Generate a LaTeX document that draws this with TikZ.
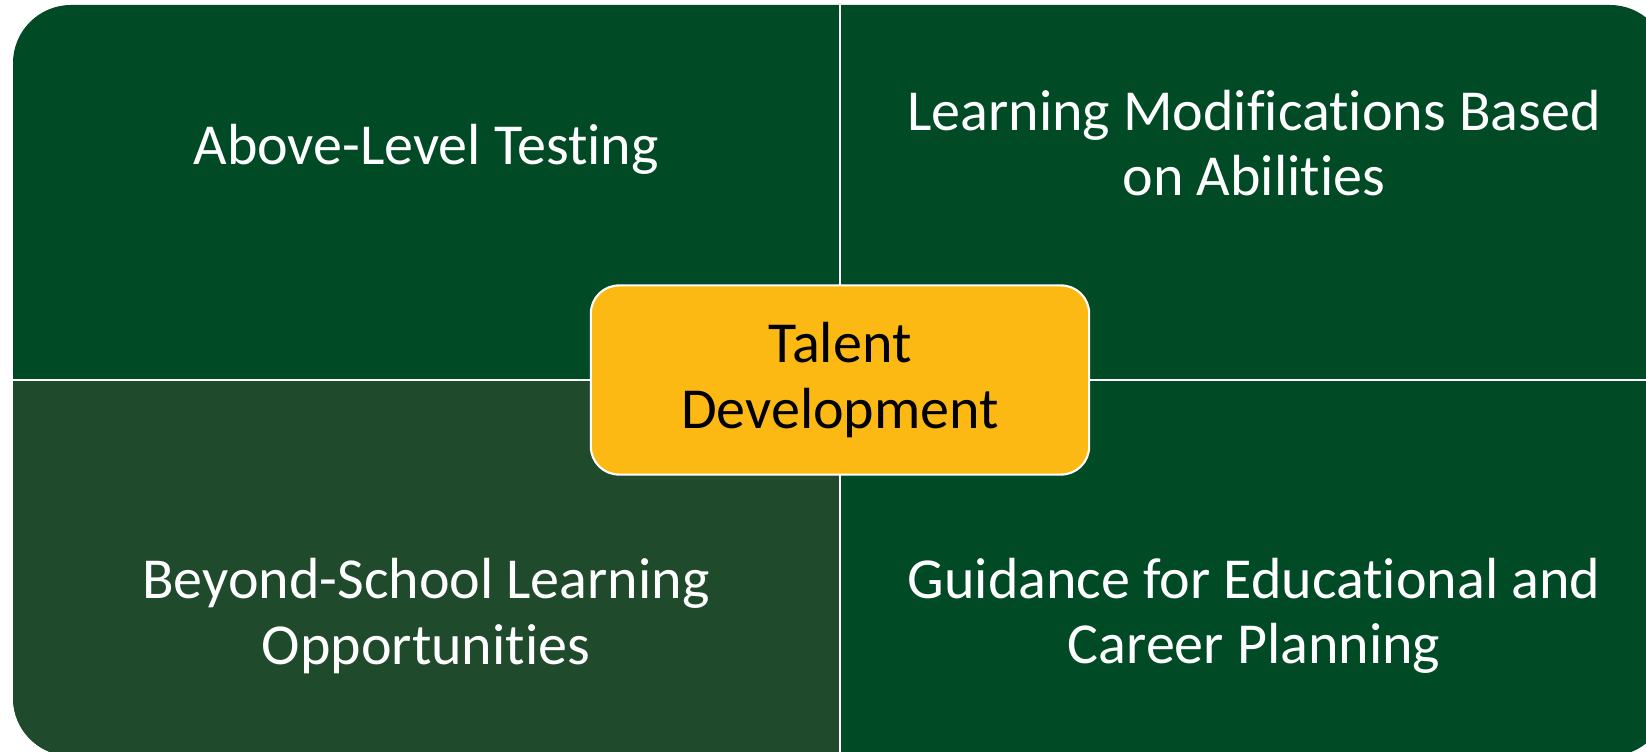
\documentclass[tikz,border=0pt]{standalone}
\usepackage{fontspec}
\setmainfont[Ligatures=NoCommon]{Carlito}
\usepackage{xcolor}
\usepackage{tikz}

\definecolor{quadgreen}{RGB}{0,75,38}
\definecolor{quadmoss}{RGB}{31,74,44}
\definecolor{talentgold}{RGB}{253,185,19}

\tikzset{
	quadtext/.style={text=white, align=center, inner sep=0pt, font=\fontsize{16.5}{18.5}\selectfont},
	talentbox/.style={draw=white, line width=0.6pt, fill=talentgold, rounded corners=0.28cm,
		minimum width=4.98cm, minimum height=1.89cm, align=center, inner sep=0pt,
		font=\fontsize{16.5}{18.5}\selectfont}
}

\begin{document}
\begin{tikzpicture}[x=0.01cm, y=-0.01cm]
	\useasboundingbox[fill=white] (0,0) rectangle (1646,752);
	% four quadrants
	\fill[quadgreen, rounded corners=0.58cm] (13,5) rectangle (1668,756);
	\begin{scope}
		\clip[rounded corners=0.58cm] (13,5) rectangle (1668,756);
		\fill[quadmoss] (13,380) rectangle (840,756);
	\end{scope}
	\draw[white, line width=0.7pt] (840,0) -- (840,756);
	\draw[white, line width=0.7pt] (13,380) -- (1668,380);
	% labels
	\node[quadtext] (abovelevel) at (426,149) {Above-Level Testing};
	\node[quadtext] (modifications) at (1254,143) {Learning Modifications Based\\on Abilities};
	\node[quadtext] (beyondschool) at (426,616) {Beyond-School Learning\\Opportunities};
	\node[quadtext] (guidance) at (1254,616) {Guidance for Educational and\\Career Planning};
	% centre
	\node[talentbox] (talent) at (840,380) {Talent\\Development};
\end{tikzpicture}
\end{document}
